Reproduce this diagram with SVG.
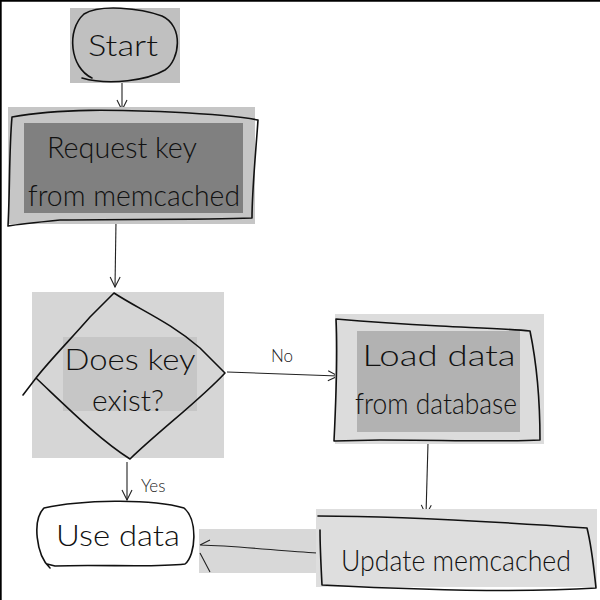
<svg xmlns="http://www.w3.org/2000/svg" width="600" height="600" viewBox="0 0 600 600">
<style>
.ink{fill:none;stroke:#111;stroke-width:1.6;stroke-linecap:round;stroke-linejoin:round}
.con{fill:none;stroke:#222;stroke-width:1.1}
.t{font-family:Lato,"Open Sans","Liberation Sans",sans-serif;font-weight:300;fill:#111;font-size:30px;text-anchor:middle}
.s{font-family:Lato,"Open Sans","Liberation Sans",sans-serif;font-weight:300;fill:#222;font-size:17px}
</style>
<defs>
<marker id="ah" viewBox="0 0 12 12" refX="11" refY="6" markerWidth="12" markerHeight="12" markerUnits="userSpaceOnUse" orient="auto">
<polyline points="1,1 11,6 1,11" fill="none" stroke="#222" stroke-width="1.1"/>
</marker>
</defs>
<rect x="0" y="0" width="600" height="600" fill="#fff"/>
<line x1="0" y1="0.8" x2="600" y2="0.8" stroke="#000" stroke-width="1.8"/>
<line x1="0.8" y1="0" x2="0.8" y2="600" stroke="#000" stroke-width="1.8"/>

<g id="connectors">
<rect x="199" y="529" width="118" height="44" fill="#d8d8d8"/>
<path class="con" d="M122,80 L122,110" marker-end="url(#ah)"/>
<path class="con" d="M116,221 L115,287" marker-end="url(#ah)"/>
<path class="con" d="M227,372 L338,376" marker-end="url(#ah)"/>
<text class="s" x="271" y="362">No</text>
<path class="con" d="M127,462 L127,500" marker-end="url(#ah)"/>
<text class="s" x="141" y="492">Yes</text>
<path class="con" d="M428,443 L426,515" marker-end="url(#ah)"/>
<path class="con" d="M317,553 C280,551 240,546 200,545 M200,545 L210,540 M200,553 L210,572"/>
</g>

<g id="start">
<rect x="70" y="8" width="110" height="75" fill="#c0c0c0"/>
<path class="ink" d="M92,78 C70,68 66,30 84,14 C100,4 140,8 162,16 C184,26 180,60 165,70 C148,80 110,86 82,78"/>
<text class="t" x="123" y="56" textLength="70" lengthAdjust="spacingAndGlyphs">Start</text>
</g>

<g id="request">
<rect x="8" y="107" width="247" height="117" fill="#c6c6c6"/>
<rect x="24" y="123" width="219" height="90" fill="#808080"/>
<path class="ink" d="M12,117 C60,108 120,110 170,112 C210,114 240,116 258,120 C256,150 252,190 252,218 C200,220 120,219 60,220 C40,222 20,224 8,226 C10,190 9,150 12,117"/>
<text class="t" x="122" y="158" textLength="150" lengthAdjust="spacingAndGlyphs">Request key</text>
<text class="t" x="134" y="206" textLength="212" lengthAdjust="spacingAndGlyphs">from memcached</text>
</g>

<g id="decision">
<rect x="32" y="292" width="192" height="166" fill="#d6d6d6"/>
<rect x="63" y="337" width="134" height="74" fill="#c6c6c6"/>
<path class="ink" d="M114,293 C140,310 170,322 200,348 L225,373 C200,400 160,430 130,459 C100,440 70,410 36,378 C50,360 70,340 90,317 L114,293 M36,378 L23,395"/>
<text class="t" x="130" y="370" textLength="131" lengthAdjust="spacingAndGlyphs">Does key</text>
<text class="t" x="128" y="411" font-size="24" textLength="72" lengthAdjust="spacingAndGlyphs">exist?</text>
</g>

<g id="load">
<rect x="335" y="314" width="209" height="130" fill="#dcdcdc"/>
<rect x="357" y="331" width="163" height="101" fill="#b2b2b2"/>
<path class="ink" d="M336,319 C370,322 400,324 440,326 C480,328 510,329 530,331 C536,360 540,400 540,440 C500,442 440,440 380,440 L334,441 C336,400 338,360 336,319"/>
<text class="t" x="439" y="366" textLength="153" lengthAdjust="spacingAndGlyphs">Load data</text>
<text class="t" x="436" y="414" textLength="162" lengthAdjust="spacingAndGlyphs">from database</text>
</g>

<g id="update">
<rect x="316" y="509" width="281" height="78" fill="#dedede"/>
<path class="ink" d="M318,516 C400,516 500,522 587,528 C592,548 594,570 596,588 C520,593 420,590 322,585 C321,566 320,545 320,530"/>
<text class="t" x="456" y="571" textLength="230" lengthAdjust="spacingAndGlyphs">Update memcached</text>
</g>

<g id="use">
<path class="ink" d="M50,568 C36,555 32,520 44,508 C80,500 150,498 184,508 C198,520 196,555 185,564 C150,568 100,564 55,566 L47,564" fill="#fff"/>
<text class="t" x="118" y="546" textLength="124" lengthAdjust="spacingAndGlyphs">Use data</text>
</g>
</svg>
